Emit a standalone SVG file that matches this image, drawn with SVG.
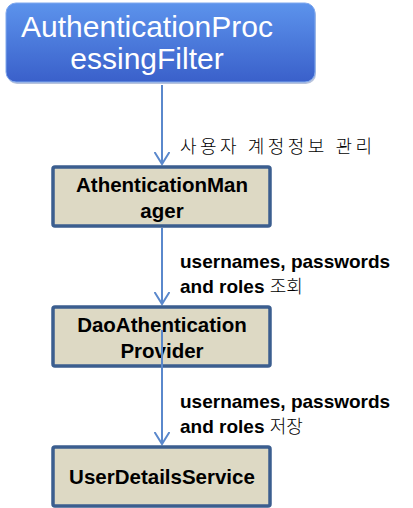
<svg xmlns="http://www.w3.org/2000/svg" width="413" height="508" viewBox="0 0 413 508">
<style>
.box{fill:#DDD9C4;stroke:#3B5E8F;stroke-width:3.5}
.bt{font-family:"Liberation Sans",Arial,sans-serif;font-weight:bold;font-size:20.5px;fill:#000;text-anchor:middle}
.lbl{font-family:"Liberation Sans","Noto Sans CJK KR",sans-serif;font-weight:bold;font-size:19px;fill:#000}
.kr{font-family:"Noto Sans CJK KR",sans-serif;font-weight:300;font-size:18px;fill:#000}
.conn{stroke:#5A88CC;stroke-width:2;fill:none}
</style>
<defs>
<linearGradient id="g" x1="0" y1="0" x2="0" y2="1">
<stop offset="0" stop-color="#5C93EC"/>
<stop offset="1" stop-color="#3A60CA"/>
</linearGradient>
<marker id="arr" markerWidth="16" markerHeight="16" refX="12" refY="8" orient="auto" markerUnits="userSpaceOnUse">
<path d="M0,0.5 L12,8 L0,15.5" fill="none" stroke="#5A88CC" stroke-width="2"/>
</marker>
</defs>
<g id="connectors">
<line class="conn" x1="162" y1="85" x2="162" y2="164" marker-end="url(#arr)"/>
<line class="conn" x1="162" y1="228" x2="162" y2="304" marker-end="url(#arr)"/>
<text class="kr" x="180" y="153" letter-spacing="3.5">사용자 계정정보 관리</text>
<text class="lbl" x="180" y="268">usernames, passwords</text>
<text class="lbl" x="180" y="293">and roles <tspan class="kr" font-weight="300">조회</tspan></text>
<text class="lbl" x="180" y="408">usernames, passwords</text>
<text class="lbl" x="180" y="433">and roles <tspan class="kr" font-weight="300">저장</tspan></text>
</g>
<g id="filter">
<rect x="7" y="5" width="309" height="79" rx="10" fill="#2F4F9A" opacity="0.35"/>
<rect x="6" y="3" width="309" height="79" rx="10" fill="url(#g)" stroke="#7FA8EE" stroke-width="1"/>
<text x="147" y="37" font-family="'Liberation Sans',Arial,sans-serif" font-size="30" fill="#fff" text-anchor="middle">AuthenticationProc</text>
<text x="147" y="69" font-family="'Liberation Sans',Arial,sans-serif" font-size="30" fill="#fff" text-anchor="middle">essingFilter</text>
</g>
<g id="manager">
<rect class="box" x="53" y="167" width="217" height="59" rx="2"/>
<text class="bt" x="162" y="192">AthenticationMan</text>
<text class="bt" x="162" y="218">ager</text>
</g>
<g id="dao">
<rect class="box" x="53" y="307" width="217" height="59" rx="2"/>
<text class="bt" x="162" y="332">DaoAthentication</text>
<text class="bt" x="162" y="358">Provider</text>
</g>
<g id="connector3">
<line class="conn" x1="162" y1="330" x2="162" y2="444" marker-end="url(#arr)"/>
</g>
<g id="uds">
<rect class="box" x="53" y="447" width="217" height="59" rx="2"/>
<text class="bt" x="162" y="484">UserDetailsService</text>
</g>
</svg>
